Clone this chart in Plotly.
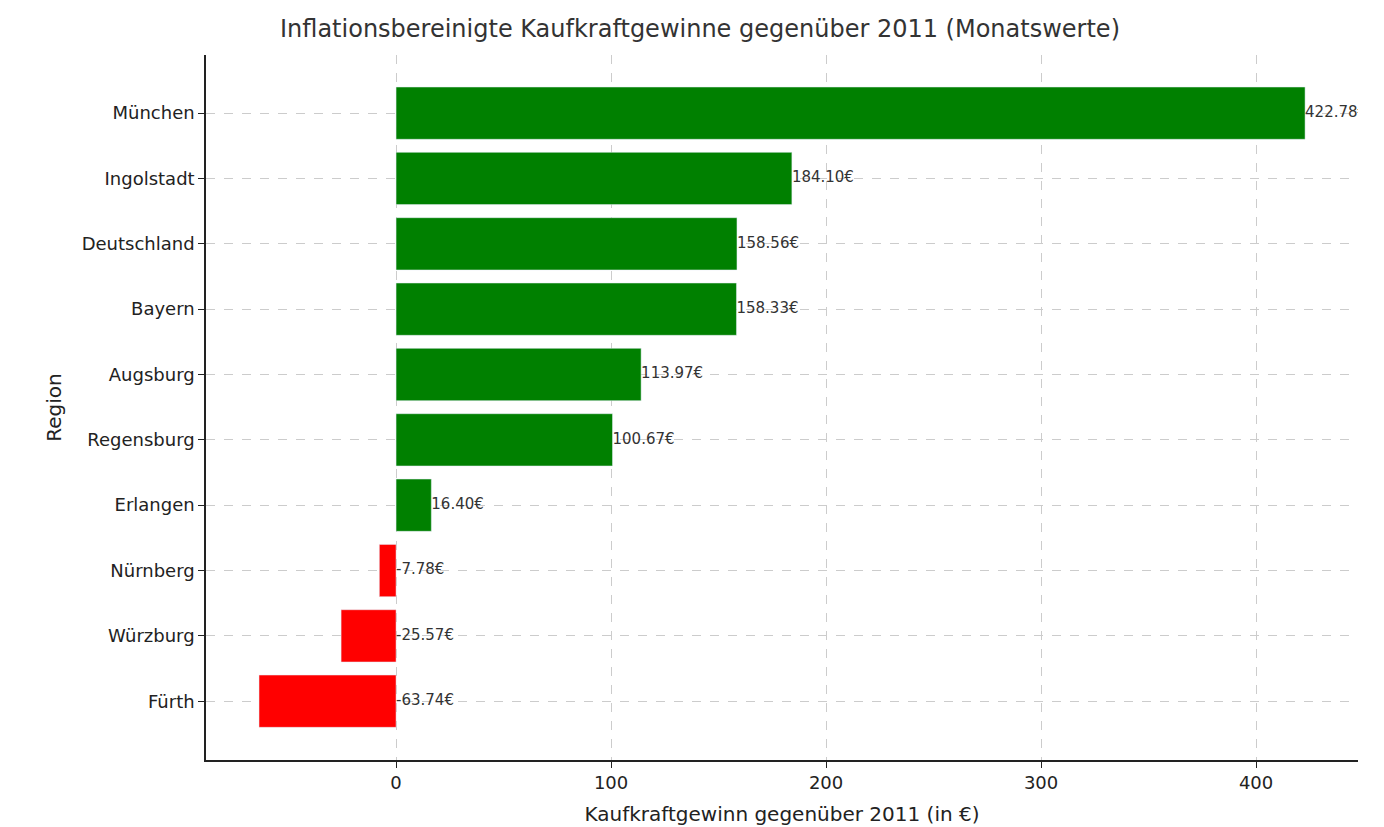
import plotly.graph_objects as go

regions = ["Fürth", "Würzburg", "Nürnberg", "Erlangen", "Regensburg", "Augsburg",
           "Bayern", "Deutschland", "Ingolstadt", "München"]
gains = [-63.74, -25.57, -7.78, 16.40, 100.67, 113.97, 158.33, 158.56, 184.10, 422.78]
colors = ["green" if v >= 0 else "red" for v in gains]
labels = [f"{v:.2f}€" for v in gains]

fig = go.Figure()
fig.add_trace(go.Bar(x=gains, y=regions, orientation="h", marker_color=colors,
                     width=0.8, showlegend=False, hoverinfo="skip"))
fig.add_trace(go.Scatter(x=[max(v, 0) for v in gains], y=regions, mode="text", text=labels,
                         textposition="middle right", textfont=dict(size=15, color="#333"),
                         showlegend=False, hoverinfo="skip"))

axis_common = dict(showline=True, linecolor="#222", linewidth=1.5, ticks="outside",
                   tickcolor="#222", ticklen=6, showgrid=True, gridcolor="#ccc",
                   griddash="dash", gridwidth=1, zeroline=False,
                   tickfont=dict(size=18, color="#222"))
fig.update_layout(
    width=1384, height=827, plot_bgcolor="white", paper_bgcolor="white",
    font=dict(family="DejaVu Sans", color="#222"),
    margin=dict(l=198, r=34, t=47, b=75),
    title=dict(text="Inflationsbereinigte Kaufkraftgewinne gegenüber 2011 (Monatswerte)",
               x=0.5, xanchor="center", y=0.985, yanchor="top", font=dict(size=24, color="#333")),
    xaxis=dict(range=[-88.4, 447.4], tickvals=[0, 100, 200, 300, 400],
               title=dict(text="Kaufkraftgewinn gegenüber 2011 (in €)", font=dict(size=20)),
               **axis_common),
    yaxis=dict(range=[-0.9, 9.89],
               title=dict(text="Region", font=dict(size=20)), **axis_common),
)
fig.write_html("out.html")
